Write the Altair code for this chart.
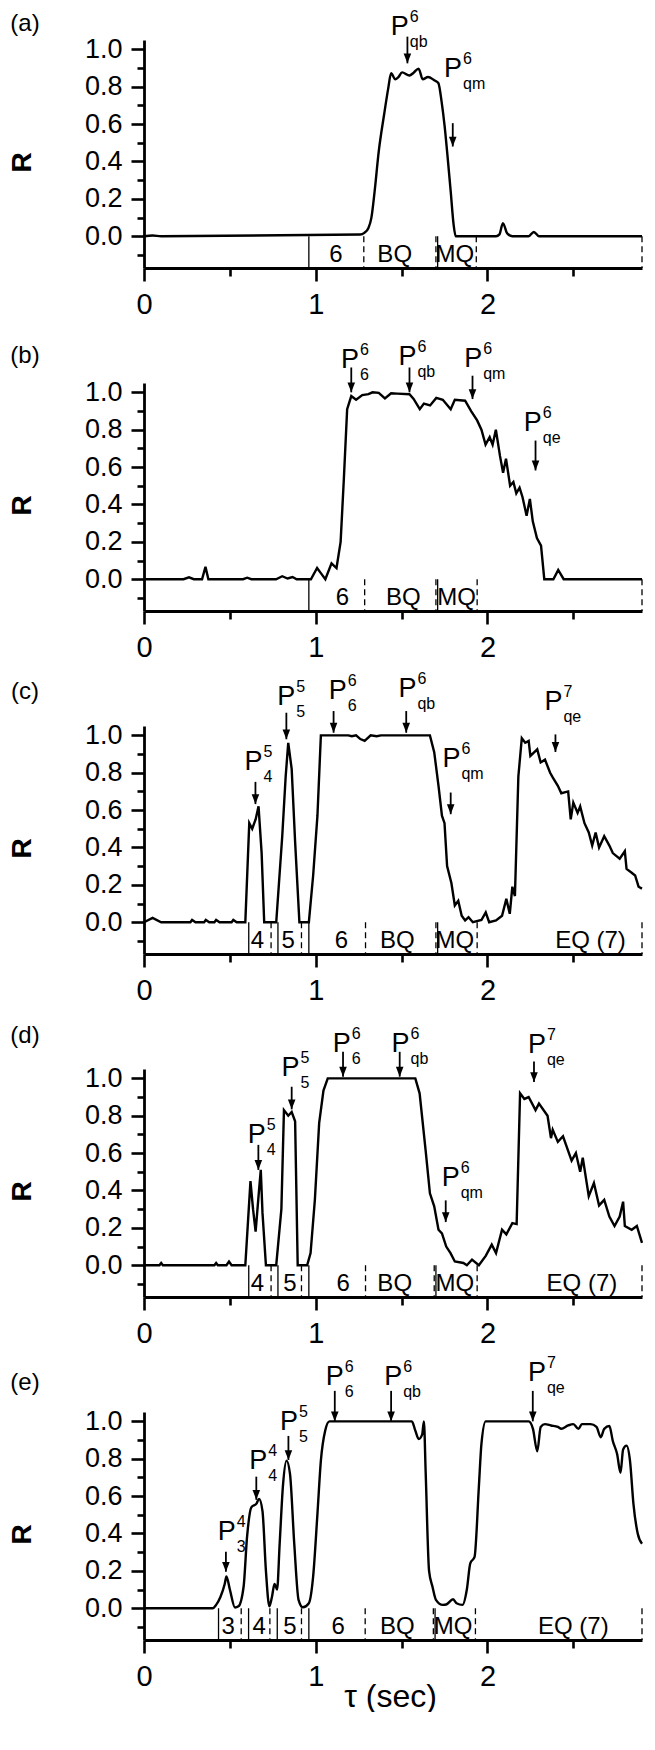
import altair as alt
import pandas as pd

FONT = "Liberation Sans"

# ---------------- curves (tau in sec, R) ----------------
TAU_A = [0.00, 0.05, 0.10, 1.259, 1.283, 1.307, 1.324, 1.343, 1.367, 1.398, 1.422, 1.439, 1.463, 1.48, 1.503,
         1.546, 1.57, 1.599, 1.623, 1.654, 1.69, 1.714, 1.733, 1.75, 1.767, 1.786, 1.803, 1.815, 2.05, 2.07,
         2.09, 2.115, 2.145, 2.24, 2.27, 2.30, 2.90]
R_A = [0.0, 0.004, 0.0, 0.009, 0.018, 0.044, 0.098, 0.24, 0.454, 0.65, 0.79, 0.872, 0.84, 0.85, 0.877,
       0.86, 0.875, 0.897, 0.84, 0.852, 0.835, 0.82, 0.72, 0.594, 0.434, 0.24, 0.062, 0.0, 0.0, 0.01,
       0.07, 0.015, 0.0, 0.0, 0.023, 0.0, 0.0]

TAU_B = [0.0, 0.23, 0.262, 0.29, 0.338, 0.358, 0.375, 0.577, 0.601, 0.625, 0.769, 0.805, 0.836, 0.865, 0.889,
         0.972, 1.008, 1.032, 1.056, 1.092, 1.121, 1.145, 1.164, 1.183, 1.207, 1.235, 1.271, 1.307, 1.331,
         1.367, 1.403, 1.439, 1.475, 1.546, 1.57, 1.606, 1.63, 1.666, 1.702, 1.74, 1.786, 1.81, 1.87, 1.905,
         1.94, 1.965, 1.989, 2.013, 2.03, 2.049, 2.073, 2.091, 2.108, 2.132, 2.151, 2.168, 2.187, 2.204,
         2.228, 2.247, 2.264, 2.288, 2.312, 2.331, 2.384, 2.412, 2.444, 2.90]
R_B = [0.0, 0.0, 0.01, 0.0, 0.0, 0.066, 0.0, 0.0, 0.008, 0.0, 0.0, 0.016, 0.004, 0.012, 0.0,
       0.0, 0.06, 0.03, 0.0, 0.085, 0.06, 0.2, 0.54, 0.91, 0.98, 0.96, 0.985, 0.99, 1.0,
       0.997, 0.968, 0.995, 0.993, 0.99, 0.965, 0.91, 0.94, 0.93, 0.97, 0.96, 0.91, 0.96, 0.955, 0.90,
       0.85, 0.80, 0.72, 0.76, 0.72, 0.80, 0.66, 0.57, 0.645, 0.50, 0.52, 0.46, 0.49, 0.44,
       0.34, 0.43, 0.31, 0.22, 0.18, 0.0, 0.0, 0.05, 0.0, 0.0]

TAU_C = [0.0, 0.05, 0.10, 0.27, 0.28, 0.30, 0.35, 0.36, 0.38, 0.41, 0.42, 0.44, 0.51, 0.52, 0.54, 0.59,
         0.613, 0.63, 0.65, 0.667, 0.685, 0.70, 0.77, 0.805, 0.825, 0.84, 0.86, 0.88, 0.905, 0.96, 0.985,
         1.01, 1.03, 1.19, 1.21, 1.235, 1.26, 1.285, 1.32, 1.355, 1.38, 1.665, 1.69, 1.715, 1.735, 1.75,
         1.765, 1.79, 1.81, 1.83, 1.85, 1.87, 1.89, 1.915, 1.965, 1.99, 2.01, 2.05, 2.085, 2.11, 2.13,
         2.145, 2.16, 2.18, 2.20, 2.22, 2.24, 2.25, 2.29, 2.31, 2.335, 2.365, 2.38, 2.41, 2.43, 2.47,
         2.485, 2.50, 2.525, 2.54, 2.565, 2.59, 2.61, 2.63, 2.65, 2.68, 2.71, 2.73, 2.77, 2.80, 2.81,
         2.84, 2.86, 2.88, 2.90]
R_C = [0.0, 0.023, 0.0, 0.0, 0.012, 0.0, 0.0, 0.012, 0.0, 0.0, 0.012, 0.0, 0.0, 0.012, 0.0, 0.0,
       0.53, 0.50, 0.55, 0.62, 0.37, 0.0, 0.0, 0.46, 0.78, 0.96, 0.82, 0.43, 0.0, 0.0, 0.25,
       0.57, 1.0, 1.0, 0.995, 1.0, 0.98, 0.97, 1.0, 0.995, 1.0, 1.0, 0.91, 0.73, 0.57, 0.53,
       0.30, 0.21, 0.09, 0.115, 0.035, 0.01, 0.027, 0.0, 0.012, 0.053, 0.0, 0.01, 0.035, 0.125, 0.045,
       0.19, 0.14, 0.78, 0.985, 0.96, 0.97, 0.89, 0.925, 0.855, 0.87, 0.80, 0.775, 0.73, 0.69, 0.70,
       0.55, 0.64, 0.585, 0.62, 0.53, 0.48, 0.41, 0.48, 0.40, 0.46, 0.41, 0.37, 0.34, 0.38, 0.285,
       0.265, 0.25, 0.19, 0.18]

TAU_D = [0.0, 0.09, 0.10, 0.11, 0.41, 0.42, 0.43, 0.48, 0.495, 0.51, 0.59, 0.605, 0.62, 0.635, 0.65,
         0.667, 0.68, 0.69, 0.71, 0.77, 0.80, 0.815, 0.84, 0.86, 0.88, 0.895, 0.95, 0.97, 0.995, 1.02,
         1.045, 1.07, 1.58, 1.605, 1.64, 1.665, 1.69, 1.715, 1.735, 1.76, 1.785, 1.81, 1.86, 1.88, 1.91,
         1.95, 1.99, 2.025, 2.05, 2.085, 2.11, 2.145, 2.17, 2.19, 2.215, 2.24, 2.28, 2.30, 2.35, 2.37,
         2.38, 2.41, 2.44, 2.49, 2.515, 2.54, 2.555, 2.59, 2.62, 2.65, 2.68, 2.71, 2.74, 2.77, 2.79,
         2.80, 2.84, 2.87, 2.90]
R_D = [0.0, 0.0, 0.012, 0.0, 0.0, 0.012, 0.0, 0.0, 0.02, 0.0, 0.0, 0.225, 0.45, 0.30, 0.18,
       0.37, 0.51, 0.28, 0.0, 0.0, 0.30, 0.83, 0.80, 0.82, 0.77, 0.0, 0.0, 0.065, 0.35, 0.76,
       0.935, 1.0, 1.0, 0.92, 0.615, 0.385, 0.315, 0.19, 0.17, 0.10, 0.065, 0.02, 0.012, 0.0, 0.03,
       0.0, 0.05, 0.11, 0.065, 0.19, 0.165, 0.225, 0.22, 0.92, 0.89, 0.90, 0.83, 0.865, 0.80, 0.68,
       0.725, 0.66, 0.69, 0.56, 0.60, 0.50, 0.575, 0.37, 0.44, 0.32, 0.35, 0.26, 0.21, 0.26, 0.34,
       0.21, 0.19, 0.21, 0.12]

TAU_E = [0.0, 0.40, 0.42, 0.445, 0.47, 0.48, 0.50, 0.53, 0.55, 0.58, 0.60, 0.625, 0.655, 0.67, 0.69,
         0.71, 0.73, 0.745, 0.76, 0.775, 0.79, 0.81, 0.83, 0.85, 0.875, 0.90, 0.925, 0.96, 0.985, 1.01,
         1.03, 1.055, 1.08, 1.56, 1.58, 1.60, 1.62, 1.63, 1.64, 1.66, 1.68, 1.70, 1.74, 1.76, 1.80,
         1.82, 1.855, 1.88, 1.90, 1.925, 1.95, 1.965, 1.99, 2.24, 2.265, 2.29, 2.31, 2.335, 2.37, 2.41,
         2.43, 2.47, 2.50, 2.53, 2.55, 2.60, 2.635, 2.66, 2.68, 2.71, 2.73, 2.755, 2.775, 2.79, 2.81,
         2.83, 2.85, 2.875, 2.90]
R_E = [0.0, 0.0, 0.018, 0.06, 0.13, 0.17, 0.10, 0.004, 0.01, 0.115, 0.38, 0.54, 0.56, 0.585, 0.52,
       0.20, 0.01, 0.06, 0.13, 0.10, 0.345, 0.665, 0.79, 0.72, 0.345, 0.045, 0.005, 0.027, 0.17, 0.505,
       0.79, 0.95, 1.0, 1.0, 0.95, 0.905, 0.93, 1.0, 0.735, 0.20, 0.115, 0.045, 0.018, 0.02, 0.048,
       0.027, 0.018, 0.10, 0.24, 0.275, 0.65, 0.88, 1.0, 1.0, 0.96, 0.84, 0.97, 0.985, 0.978, 0.97,
       0.96, 0.978, 0.985, 0.96, 0.985, 0.985, 0.97, 0.915, 0.96, 0.975, 0.895, 0.825, 0.725, 0.85, 0.87,
       0.79, 0.56, 0.40, 0.345]

# ---------------- region separators (tau, dashed?) ----------------
SEP_A = [0.96, 1.28, 1.70, 1.71, 1.935, 2.9]
DASH_A = [False, True, True, False, True, True]
SEP_B = [0.96, 1.285, 1.70, 1.71, 1.94, 2.9]
DASH_B = [False, True, True, False, True, True]
SEP_C = [0.61, 0.74, 0.78, 0.917, 0.96, 1.29, 1.70, 1.71, 1.94, 2.9]
DASH_C = [False, True, False, True, False, True, True, False, True, True]
SEP_D = [0.61, 0.74, 0.78, 0.917, 0.96, 1.29, 1.69, 1.70, 1.94, 2.9]
DASH_D = [False, True, False, True, False, True, True, False, True, True]
SEP_E = [0.434, 0.566, 0.609, 0.733, 0.776, 0.917, 0.96, 1.288, 1.685, 1.695, 1.93, 2.9]
DASH_E = [False, True, False, True, False, True, False, True, True, False, True, True]

# ---------------- region labels ----------------
REG_TAU_A = [1.117, 1.46, 1.81]
REG_TXT_A = ["6", "BQ", "MQ"]
REG_TAU_B = [1.155, 1.51, 1.82]
REG_TXT_B = ["6", "BQ", "MQ"]
REG_TAU_C = [0.66, 0.84, 1.15, 1.475, 1.81, 2.60]
REG_TXT_C = ["4", "5", "6", "BQ", "MQ", "EQ (7)"]
REG_TAU_D = [0.66, 0.85, 1.16, 1.46, 1.81, 2.55]
REG_TXT_D = ["4", "5", "6", "BQ", "MQ", "EQ (7)"]
REG_TAU_E = [0.49, 0.67, 0.85, 1.13, 1.475, 1.80, 2.50]
REG_TXT_E = ["3", "4", "5", "6", "BQ", "MQ", "EQ (7)"]

# ---------------- arrow annotations ----------------
ARR_TAU_A = [1.534, 1.798]
ARR_TOP_A = [1.068, 0.605]
ARR_BOT_A = [0.925, 0.48]
LBL_TAU_A = [1.49, 1.80]
LBL_R_A = [1.12, 0.893]
SUP_A = ["6", "6"]
SUB_A = ["qb", "qm"]

ARR_TAU_B = [1.207, 1.546, 1.913, 2.28]
ARR_TOP_B = [1.133, 1.133, 1.089, 0.742]
ARR_BOT_B = [1.0, 1.0, 0.964, 0.582]
LBL_TAU_B = [1.20, 1.534, 1.917, 2.264]
LBL_R_B = [1.174, 1.187, 1.178, 0.836]
SUP_B = ["6", "6", "6", "6"]
SUB_B = ["6", "qb", "qm", "qe"]

ARR_TAU_C = [0.649, 0.829, 1.104, 1.527, 1.786, 2.396]
ARR_TOP_C = [0.751, 1.121, 1.13, 1.13, 0.694, 1.005]
ARR_BOT_C = [0.632, 0.979, 1.014, 1.014, 0.578, 0.911]
LBL_TAU_C = [0.637, 0.829, 1.128, 1.534, 1.79, 2.384]
LBL_R_C = [0.858, 1.206, 1.237, 1.246, 0.872, 1.178]
SUP_C = ["5", "5", "6", "6", "6", "7"]
SUB_C = ["4", "5", "6", "qb", "qm", "qe"]

ARR_TAU_D = [0.666, 0.86, 1.159, 1.489, 1.757, 2.271]
ARR_TOP_D = [0.644, 0.955, 1.142, 1.142, 0.347, 1.09]
ARR_BOT_D = [0.51, 0.834, 1.009, 1.009, 0.231, 0.98]
LBL_TAU_D = [0.656, 0.853, 1.152, 1.494, 1.786, 2.288]
LBL_R_D = [0.697, 1.053, 1.183, 1.183, 0.466, 1.18]
SUP_D = ["5", "5", "6", "6", "6", "7"]
SUB_D = ["4", "5", "6", "qb", "qm", "qe"]

ARR_TAU_E = [0.477, 0.654, 0.841, 1.111, 1.439, 2.264]
ARR_TOP_E = [0.302, 0.704, 0.922, 1.163, 1.163, 1.163]
ARR_BOT_E = [0.195, 0.58, 0.793, 1.0, 1.0, 1.0]
LBL_TAU_E = [0.482, 0.666, 0.845, 1.111, 1.451, 2.288]
LBL_R_E = [0.409, 0.79, 0.994, 1.237, 1.237, 1.26]
SUP_E = ["4", "4", "5", "6", "6", "7"]
SUB_E = ["3", "4", "5", "6", "qb", "qe"]

LETTERS = ["(a)", "(b)", "(c)", "(d)", "(e)"]
LETTER_DY = [-16, -27, -34, -33, -29]

X_DOMAIN = [0, 2.9]
Y_DOMAIN = [-0.17, 1.05]
BAND_BOTTOM = -0.17
REGION_LABEL_R = -0.1

W, H = 498, 228
PERIOD = 343
ARROW_SHAPE = "M -0.5 -1.3 L 0.5 -1.3 L 0 0 Z"


def x_enc(show_title):
    axis = alt.Axis(
        values=[0, 0.5, 1, 1.5, 2, 2.5],
        labelExpr="datum.value % 1 == 0 ? format(datum.value, 'd') : ''",
        tickSize={"condition": {"test": "datum.value % 1 == 0", "value": 13}, "value": 8},
        tickWidth=2.6, tickColor="black", domainWidth=2.8, domainColor="black",
        labelFont=FONT, labelFontSize=29, labelColor="black", labelPadding=9,
        labelOverlap=False, labelFlush=False, grid=False,
        title="τ (sec)" if show_title else None,
        titleFont=FONT, titleFontSize=32, titleFontWeight="normal", titleColor="black",
        titleX=246, titleY=66, titleBaseline="alphabetic", titleAlign="center",
    )
    return alt.X("tau:Q", scale=alt.Scale(domain=X_DOMAIN, nice=False, zero=False), axis=axis)


def y_enc():
    axis = alt.Axis(
        values=[-0.1, 0, 0.1, 0.2, 0.3, 0.4, 0.5, 0.6, 0.7, 0.8, 0.9, 1.0],
        labelExpr="(round(datum.value*10) % 2 == 0 && datum.value >= 0) ? format(datum.value, '.1f') : ''",
        tickSize={"condition": {"test": "round(datum.value*10) % 2 == 0 && datum.value >= 0", "value": 13},
                  "value": 7},
        tickWidth=2.6, tickColor="black", domainWidth=2.8, domainColor="black",
        labelFont=FONT, labelFontSize=27, labelColor="black", labelPadding=9,
        labelOverlap=False, labelFlush=False, grid=False,
        title="R", titleFont=FONT, titleFontSize=28, titleFontWeight="bold", titleColor="black",
        titleAngle=270, titleAlign="center", titleBaseline="middle", titleX=-122, titleY=122,
    )
    return alt.Y("R:Q", scale=alt.Scale(domain=Y_DOMAIN, nice=False, zero=False), axis=axis)


def panel(idx, tau, r, interp, sep, dash, reg_tau, reg_txt, a_tau, a_top, a_bot, l_tau, l_r, sup, sub,
          show_title):
    curve = pd.DataFrame({"tau": tau, "R": r})
    seps = pd.DataFrame({"tau": sep, "R": [0.0] * len(sep), "R2": [BAND_BOTTOM] * len(sep), "dash": dash})
    regs = pd.DataFrame({"tau": reg_tau, "R": [REGION_LABEL_R] * len(reg_tau), "txt": reg_txt})
    arrows = pd.DataFrame({"tau": a_tau, "R": a_top, "R2": a_bot})
    heads = pd.DataFrame({"tau": a_tau, "R": a_bot})
    labels = pd.DataFrame({"tau": l_tau, "R": l_r, "sup": sup, "sub": sub})
    letter = pd.DataFrame({"t": [LETTERS[idx]]})

    xs = x_enc(show_title)
    ys = y_enc()

    line = alt.Chart(curve).mark_line(color="black", strokeWidth=2.4, interpolate=interp).encode(
        x=xs, y=ys)
    solid = alt.Chart(seps).transform_filter("!datum.dash").mark_rule(
        color="black", strokeWidth=1.3).encode(x=xs, y=ys, y2="R2:Q")
    dashed = alt.Chart(seps).transform_filter("datum.dash").mark_rule(
        color="black", strokeWidth=1.3, strokeDash=[6, 4]).encode(x=xs, y=ys, y2="R2:Q")
    region = alt.Chart(regs).mark_text(font=FONT, fontSize=24, color="black", baseline="middle",
                                       align="center").encode(x=xs, y=ys, text="txt:N")
    shaft = alt.Chart(arrows).mark_rule(color="black", strokeWidth=1.8).encode(x=xs, y=ys, y2="R2:Q")
    head = alt.Chart(heads).mark_point(shape=ARROW_SHAPE, filled=True, size=230, color="black",
                                       opacity=1, strokeWidth=0).encode(x=xs, y=ys)
    ptxt = alt.Chart(labels).mark_text(font=FONT, fontSize=27, color="black", align="center",
                                       baseline="middle").encode(x=xs, y=ys, text=alt.value("P"))
    suptxt = alt.Chart(labels).mark_text(font=FONT, fontSize=16, color="black", align="left",
                                         baseline="middle", dx=10, dy=-10).encode(x=xs, y=ys, text="sup:N")
    subtxt = alt.Chart(labels).mark_text(font=FONT, fontSize=16, color="black", align="left",
                                         baseline="middle", dx=10, dy=15).encode(x=xs, y=ys, text="sub:N")
    let = alt.Chart(letter).mark_text(font=FONT, fontSize=24, color="black", align="center",
                                      baseline="middle").encode(
        x=alt.value(-119), y=alt.value(LETTER_DY[idx]), text="t:N")

    return alt.layer(line, solid, dashed, region, shaft, head, ptxt, suptxt, subtxt, let).properties(
        width=W, height=H)


pa = panel(0, TAU_A, R_A, "monotone", SEP_A, DASH_A, REG_TAU_A, REG_TXT_A,
           ARR_TAU_A, ARR_TOP_A, ARR_BOT_A, LBL_TAU_A, LBL_R_A, SUP_A, SUB_A, False)
pb = panel(1, TAU_B, R_B, "linear", SEP_B, DASH_B, REG_TAU_B, REG_TXT_B,
           ARR_TAU_B, ARR_TOP_B, ARR_BOT_B, LBL_TAU_B, LBL_R_B, SUP_B, SUB_B, False)
pc = panel(2, TAU_C, R_C, "linear", SEP_C, DASH_C, REG_TAU_C, REG_TXT_C,
           ARR_TAU_C, ARR_TOP_C, ARR_BOT_C, LBL_TAU_C, LBL_R_C, SUP_C, SUB_C, False)
pd_ = panel(3, TAU_D, R_D, "linear", SEP_D, DASH_D, REG_TAU_D, REG_TXT_D,
            ARR_TAU_D, ARR_TOP_D, ARR_BOT_D, LBL_TAU_D, LBL_R_D, SUP_D, SUB_D, False)
pe = panel(4, TAU_E, R_E, "monotone", SEP_E, DASH_E, REG_TAU_E, REG_TXT_E,
           ARR_TAU_E, ARR_TOP_E, ARR_BOT_E, LBL_TAU_E, LBL_R_E, SUP_E, SUB_E, True)

chart = alt.vconcat(pa, pb, pc, pd_, pe, spacing=PERIOD - H, bounds="flush").properties(
    padding={"left": 0, "top": 0, "right": 0, "bottom": 0},
    background="white",
).configure_view(stroke=None)

chart.save("out.html", embed_options={"renderer": "svg", "actions": False})
